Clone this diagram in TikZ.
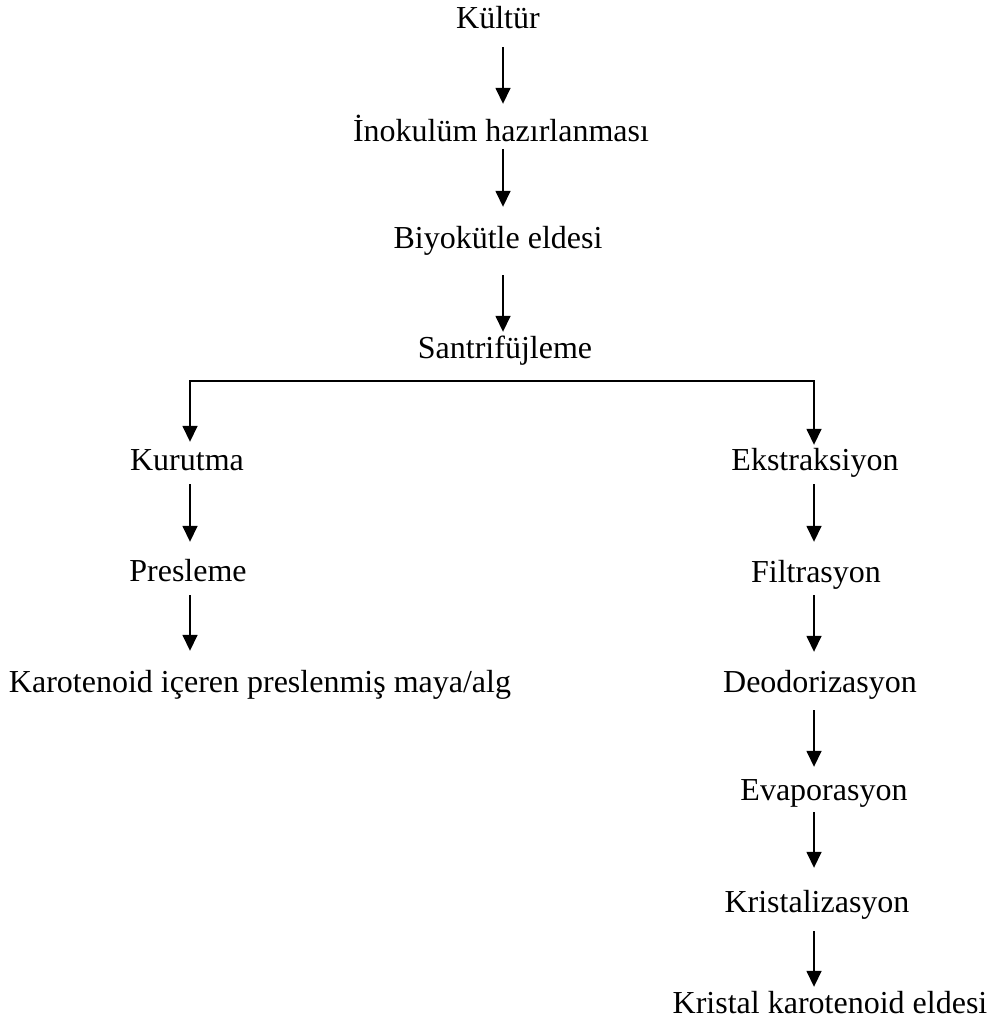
\documentclass[tikz,border=0pt]{standalone}
\usepackage{fontspec}
\setmainfont{Liberation Serif}
\usetikzlibrary{arrows.meta}

\begin{document}
\begin{tikzpicture}[x=1pt, y=-1pt, >={Triangle[width=15pt,length=16pt]},
  stage/.style={anchor=base, inner sep=0pt, text height=21pt, text depth=0pt, font=\fontsize{32}{38}\selectfont},
  flow/.style={->, line width=1.6pt}]
  \useasboundingbox (0,0) rectangle (986,1030);
  % columns of the arrows
  \coordinate (mid) at (503,0);
  \coordinate (lft) at (190,0);
  \coordinate (rgt) at (814,0);
  % main trunk
  \node[stage] (kultur) at (498,29) {Kültür};
  \node[stage] (inokulum) at (501,142) {İnokulüm hazırlanması};
  \node[stage] (biyokutle) at (498,248) {Biyokütle eldesi};
  \node[stage] (santrifuj) at (505,358) {Santrifüjleme};
  % left branch
  \node[stage] (kurutma) at (187,470) {Kurutma};
  \node[stage] (presleme) at (188,581) {Presleme};
  \node[stage] (presmaya) at (260,692) {Karotenoid içeren preslenmiş maya/alg};
  % right branch
  \node[stage] (ekstraksiyon) at (815,470) {Ekstraksiyon};
  \node[stage] (filtrasyon) at (816,582) {Filtrasyon};
  \node[stage] (deodorizasyon) at (820,692) {Deodorizasyon};
  \node[stage] (evaporasyon) at (824,800) {Evaporasyon};
  \node[stage] (kristalizasyon) at (817,912) {Kristalizasyon};
  \node[stage] (kristal) at (830,1013) {Kristal karotenoid eldesi};

  \draw[flow, shorten <=18pt, shorten >=17pt] (kultur.south -| mid) -- (inokulum.north -| mid);
  \draw[flow, shorten <=7pt, shorten >=20pt] (inokulum.south -| mid) -- (biyokutle.north -| mid);
  \draw[flow, shorten <=27pt, shorten >=5pt] (biyokutle.south -| mid) -- (santrifuj.north -| mid);
  % split into two branches
  \draw[flow, <->, shorten <=7pt, shorten >=4pt] (kurutma.north -| lft) |- ([yshift=-23pt]santrifuj.south) -| (ekstraksiyon.north -| rgt);

  \draw[flow, shorten <=14pt, shorten >=18pt] (kurutma.south -| lft) -- (presleme.north -| lft);
  \draw[flow, shorten <=14pt, shorten >=20pt] (presleme.south -| lft) -- (presmaya.north -| lft);

  \draw[flow, shorten <=14pt, shorten >=19pt] (ekstraksiyon.south -| rgt) -- (filtrasyon.north -| rgt);
  \draw[flow, shorten <=13pt, shorten >=19pt] (filtrasyon.south -| rgt) -- (deodorizasyon.north -| rgt);
  \draw[flow, shorten <=18pt, shorten >=12pt] (deodorizasyon.south -| rgt) -- (evaporasyon.north -| rgt);
  \draw[flow, shorten <=12pt, shorten >=23pt] (evaporasyon.south -| rgt) -- (kristalizasyon.north -| rgt);
  \draw[flow, shorten <=19pt, shorten >=5pt] (kristalizasyon.south -| rgt) -- (kristal.north -| rgt);
\end{tikzpicture}
\end{document}
